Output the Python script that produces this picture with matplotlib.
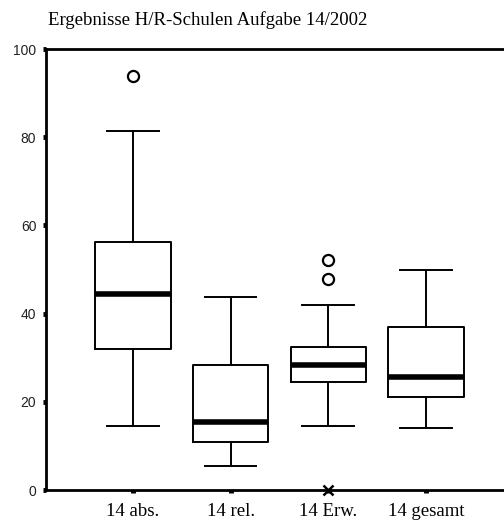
import matplotlib
matplotlib.use("Agg")
import matplotlib.pyplot as plt

# Box plot statistics
categories = ['14 abs.', '14 rel.', '14 Erw.', '14 gesamt']
whisker_low = [14.6, 5.4, 14.6, 14.1]
q1 = [31.9, 10.9, 24.6, 21.0]
medians = [44.4, 15.5, 28.3, 25.6]
q3 = [56.2, 28.3, 32.4, 37.0]
whisker_high = [81.4, 43.8, 42.0, 49.8]
outliers = [[93.9], [], [52.1, 47.9], []]
extremes = [[], [], [0.0], []]

yticks = [0, 20, 40, 60, 80, 100]
title = 'Ergebnisse H/R-Schulen Aufgabe 14/2002'

stats = []
for i, name in enumerate(categories):
    stats.append({
        'label': name,
        'whislo': whisker_low[i],
        'q1': q1[i],
        'med': medians[i],
        'q3': q3[i],
        'whishi': whisker_high[i],
        'fliers': outliers[i],
    })

fig = plt.figure(figsize=(5.04, 5.21), dpi=100)
ax = fig.add_axes([46 / 504, 31 / 521, 460 / 504, 441 / 521])

positions = list(range(1, len(categories) + 1))
lw = 1.4
ax.bxp(stats, positions=positions, widths=0.77, capwidths=0.53,
       boxprops=dict(color='black', linewidth=lw),
       whiskerprops=dict(color='black', linewidth=lw),
       capprops=dict(color='black', linewidth=lw),
       medianprops=dict(color='black', linewidth=4.0, solid_capstyle='butt'),
       flierprops=dict(marker='o', markerfacecolor='white', markeredgecolor='black',
                       markersize=8, markeredgewidth=1.6))

# extreme values drawn as crosses
for pos, vals in zip(positions, extremes):
    if vals:
        ax.plot([pos] * len(vals), vals, linestyle='none', marker='x', color='black',
                markersize=7, markeredgewidth=1.8, clip_on=False, zorder=5)

ax.set_xlim(0.11, 4.82)
ax.set_ylim(0, 100)

ax.spines['right'].set_visible(False)
for side in ['left', 'bottom', 'top']:
    ax.spines[side].set_linewidth(2.0)

ax.set_yticks(yticks)
ax.set_yticklabels([str(t) for t in yticks], fontfamily='Liberation Sans', fontsize=10,
                   color='#222222')
ax.set_xticks(positions)
ax.set_xticklabels(categories, fontfamily='Liberation Serif', fontsize=13.5)
ax.tick_params(axis='both', direction='out', length=2, width=3.5)
ax.tick_params(axis='y', pad=5)
ax.tick_params(axis='x', pad=7)

fig.text(48 / 504, 1 - 25 / 521, title, fontfamily='Liberation Serif', fontsize=13.5,
         va='baseline', ha='left')

fig.savefig('out.png', dpi=100, facecolor='white')
